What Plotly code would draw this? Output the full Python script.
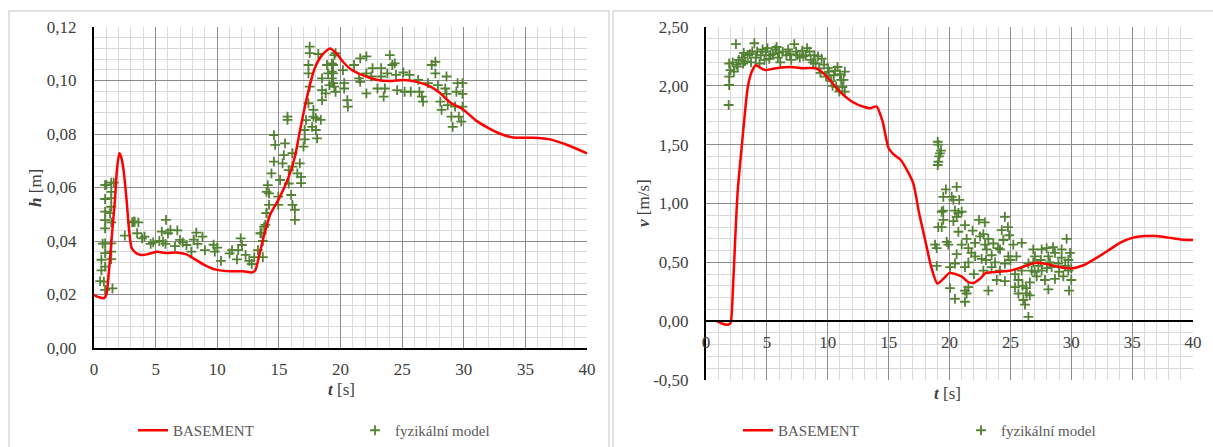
import plotly.graph_objects as go

# ---------------- DATA ----------------
# left chart: water depth h [m] vs time t [s]
h_sim_t = [0, 0.4, 0.8, 1.0, 1.2, 1.45, 1.7, 1.85, 2.05, 2.2, 2.4, 2.65, 2.85, 3.05, 3.4, 3.8, 4.3,
           5.1, 5.9, 6.7, 7.5, 8.0, 8.9, 9.9, 11.0, 12.1, 12.8, 13.1, 13.35, 13.75, 14.3, 14.95, 15.8,
           16.3, 16.7, 17.1, 17.5, 17.9, 18.5, 19.15, 19.7, 20.2, 20.9, 21.8, 22.9, 24.0, 25.1, 26.2,
           27.3, 28.1, 28.9, 30.0, 31.0, 31.9, 32.9, 34.0, 35.6, 37.0, 38.4, 40.0]
h_sim = [0.0198, 0.0190, 0.0186, 0.0200, 0.0280, 0.0420, 0.0555, 0.0660, 0.0728, 0.0715, 0.0665,
         0.0550, 0.0440, 0.0375, 0.0355, 0.0348, 0.0350, 0.0360, 0.0355, 0.0357, 0.0350, 0.0337,
         0.0312, 0.0293, 0.0287, 0.0287, 0.0282, 0.0292, 0.0335, 0.0412, 0.0500, 0.0553, 0.0640,
         0.0715, 0.0810, 0.0900, 0.0980, 0.1045, 0.1095, 0.1120, 0.1100, 0.1070, 0.1040, 0.1020,
         0.1003, 0.0998, 0.1002, 0.0995, 0.0977, 0.0952, 0.0918, 0.0890, 0.0850, 0.0825, 0.0802,
         0.0787, 0.0786, 0.0780, 0.0759, 0.0728]

h_obs_t = [0.9, 0.9, 0.9, 0.9, 0.9, 0.9, 0.9, 0.9, 0.8, 0.9,
           1.4, 1.4, 1.4, 1.4, 1.3, 1.4, 1.4, 1.4, 1.4, 1.5,
           0.6, 0.6, 0.5, 0.7, 1.0, 1.6, 3.2, 3.3,
           2.5, 3.1, 3.6, 3.5, 3.9, 4.1, 4.6, 5.5, 5.84, 6.0, 6.2, 5.6, 5.8, 6.57, 6.76, 6.98, 7.5,
           7.9, 8.3, 8.4, 8.8, 9.0, 9.7, 9.8, 10.3, 11.0, 11.2, 11.6, 11.7, 11.9, 12.0, 12.3, 12.6,
           12.8, 13.0, 13.3, 13.5, 13.7, 13.9, 14.0, 14.0, 13.7, 4.8, 5.3, 7.2, 10.0, 8.1,
           13.6, 13.8, 14.0, 14.2, 14.2, 14.1, 14.4, 14.6, 14.7, 14.6, 14.95, 14.95, 15.1, 15.3,
           15.4, 15.5, 15.7, 15.7, 15.8, 15.8, 16.0, 16.1, 16.3, 16.3, 16.1, 16.1, 16.5, 16.7,
           16.8, 16.8, 17.0, 17.1, 17.1, 17.2, 17.4, 17.5, 17.4, 17.4, 17.5, 17.5, 17.8, 18.0,
           18.0, 18.1, 17.7, 17.8, 18.4, 18.2, 18.5, 18.5, 18.5, 18.8, 18.9, 19.0, 19.1, 19.3,
           19.3, 19.3, 19.5, 19.5,
           19.4, 19.4, 19.4, 19.6, 19.6, 20.2, 20.3, 20.3, 20.55, 20.6, 21.1, 21.5, 21.6, 21.6,
           22.1, 22.1, 22.1, 22.5, 22.6, 23.0, 23.3, 23.3, 23.5, 23.6, 23.8, 24.0, 24.2, 24.4,
           24.5, 24.6, 25.1, 25.2, 25.6, 25.7, 26.3, 26.4, 26.6, 26.7, 27.1, 27.4, 27.7, 27.7,
           27.9, 28.1, 28.2, 28.5, 28.6, 28.6, 28.7, 29.0, 29.1, 29.3, 29.4, 29.5, 29.6, 29.8,
           29.9, 29.9, 29.9]
h_obs = [0.0609, 0.0557, 0.0510, 0.0478, 0.0447, 0.0391, 0.0355, 0.0304, 0.0248, 0.0217,
         0.0618, 0.0584, 0.0560, 0.0528, 0.0504, 0.0470, 0.0391, 0.0360, 0.0332, 0.0223,
         0.0330, 0.0290, 0.0250, 0.0390, 0.0610, 0.0618, 0.0472, 0.0472,
         0.0420, 0.0470, 0.0470, 0.0429, 0.0410, 0.0416, 0.0389, 0.0435, 0.0479, 0.0429, 0.0441,
         0.0398, 0.0389, 0.0381, 0.0440, 0.0404, 0.0385, 0.0360, 0.0431, 0.0389, 0.0416, 0.0366,
         0.0386, 0.0360, 0.0326, 0.0354, 0.0366, 0.0331, 0.0366, 0.0410, 0.0385, 0.0348, 0.0326,
         0.0314, 0.0340, 0.0366, 0.0429, 0.0400, 0.0460, 0.0504, 0.0584, 0.0340, 0.0395, 0.0400,
         0.0395, 0.0375, 0.0405,
         0.0429, 0.0453, 0.0504, 0.0535, 0.0578, 0.0609, 0.0653, 0.0697, 0.0759, 0.0796, 0.0566,
         0.0535, 0.0628, 0.0690, 0.0721, 0.0765, 0.0865, 0.0853, 0.0665, 0.0615, 0.0572, 0.0535,
         0.0516, 0.0479, 0.0728, 0.0678, 0.0653, 0.0690, 0.0640, 0.0616, 0.0753, 0.0815, 0.0780,
         0.0852, 0.0915, 0.0977, 0.1027, 0.1058, 0.1102, 0.1127, 0.0890, 0.0859, 0.0815, 0.0784,
         0.0827, 0.0865, 0.0853, 0.1099, 0.1008, 0.0964, 0.0927, 0.0952, 0.1058, 0.1027, 0.0983,
         0.1008, 0.1033, 0.1064, 0.1095, 0.0977,
         0.1058, 0.1027, 0.0990, 0.0958, 0.1102, 0.1039, 0.0990, 0.0970, 0.0927, 0.0902, 0.1058,
         0.1008, 0.1083, 0.0995, 0.1090, 0.0952, 0.1027, 0.1015, 0.1046, 0.0970, 0.1046, 0.1015,
         0.0940, 0.0970, 0.1027, 0.1095, 0.1058, 0.1064, 0.1021, 0.0964, 0.1030, 0.0958, 0.1021,
         0.0958, 0.1002, 0.0958, 0.0940, 0.0921, 0.0990, 0.1058, 0.1070, 0.1027, 0.0983, 0.0921,
         0.0890, 0.0970, 0.1015, 0.0950, 0.0908, 0.0865, 0.0827, 0.0902, 0.0958, 0.0990, 0.0865,
         0.0846, 0.0950, 0.0990, 0.0902]

# right chart: velocity v [m/s] vs time t [s]
v_sim_t = [0.9, 1.3, 1.7, 2.0, 2.2, 2.4, 2.6, 2.95, 3.45, 3.8, 4.1, 4.5, 4.9, 5.5, 6.0, 7.0, 8.0,
           9.0, 9.5, 10.0, 11.0, 12.0, 13.0, 13.5, 14.0, 14.5, 15.0, 15.5, 16.0, 17.0, 17.5, 18.0,
           18.5, 19.0, 19.5, 20.0, 20.5, 21.0, 21.5, 22.0, 22.5, 23.0, 24.0, 25.0, 26.0, 27.0,
           28.0, 29.0, 30.0, 31.0, 32.0, 33.0, 34.0, 35.0, 36.0, 37.0, 38.0, 39.0, 40.0]
v_sim = [0.0, -0.02, -0.03, -0.02, 0.25, 0.7, 1.1, 1.5, 2.0, 2.13, 2.175, 2.15, 2.134, 2.145,
         2.154, 2.16, 2.15, 2.15, 2.12, 2.07, 1.95, 1.865, 1.82, 1.81, 1.825, 1.7, 1.47, 1.41,
         1.37, 1.18, 0.92, 0.69, 0.46, 0.32, 0.36, 0.41, 0.40, 0.38, 0.335, 0.325, 0.36, 0.41,
         0.42, 0.43, 0.46, 0.495, 0.485, 0.46, 0.448, 0.475, 0.533, 0.598, 0.666, 0.708, 0.723,
         0.723, 0.71, 0.695, 0.689]

v_obs_t = [1.86, 1.9, 1.9, 1.9, 2.0, 2.46, 2.2, 2.6, 2.7, 2.95, 3.05, 3.42, 3.6, 3.8, 3.97, 4.1,
           4.2, 4.5, 4.65, 4.8, 4.9, 5.05, 5.2, 5.5, 5.7, 5.9, 6.1, 6.3, 6.6, 6.75, 7.0, 7.25, 7.4,
           7.7, 7.9, 8.2, 8.5, 8.6, 8.9, 9.0, 9.3, 9.4, 9.7, 9.86, 10.1, 10.3, 10.5, 10.7, 10.8,
           11.1, 11.2, 11.4, 11.4, 10.95, 10.4,
           3.2, 3.7, 4.4, 5.3, 6.0, 6.9, 7.5, 8.0, 8.8, 9.5, 10.0, 3.1, 5.8, 8.3, 9.2, 2.3, 2.5,
           10.6, 11.0, 11.3,
           19.03, 19.08, 19.22, 19.14, 19.08, 19.03, 19.30, 20.59, 20.18, 20.32, 19.49, 19.36,
           19.49, 20.45, 20.73, 20.59, 19.08, 19.36, 19.49, 20.32, 21.27, 22.42, 24.55, 20.73,
           21.41, 19.77, 19.9, 18.81, 18.95, 21.0, 21.55, 22.1, 22.51, 22.78, 22.92, 23.19, 23.05,
           23.46, 24.29, 24.42, 24.15, 24.9, 25.24, 25.93, 24.83, 24.55, 23.74, 22.64, 22.1, 21.55,
           20.59, 20.04, 18.95, 20.45, 21.27, 22.78, 23.46, 24.15, 25.38, 25.93, 25.66, 25.38,
           25.66, 26.07, 26.2, 26.48, 26.34, 20.04, 20.45, 21.27, 21.41, 21.55, 21.27, 23.19,
           24.55, 23.88, 26.88, 27.02, 27.57, 27.98, 28.12, 28.66, 29.21, 29.62, 29.76, 29.76,
           29.82, 29.35, 28.66, 28.12, 27.84, 27.16, 26.75, 27.57, 28.39, 28.94, 26.48, 26.88,
           29.21, 28.25,
           26.0, 26.3, 26.6, 27.3, 28.0, 29.0, 29.5, 30.0, 30.0, 29.9, 25.0, 24.0, 23.0, 22.0,
           21.8, 25.5, 27.5, 28.5, 26.6, 27.0, 23.6, 24.8, 21.0, 20.8, 19.7, 22.9, 21.9]
v_obs = [1.837, 2.007, 2.078, 2.19, 2.134, 2.355, 2.2, 2.163, 2.22, 2.24, 2.19, 2.262, 2.27, 2.29,
         2.362, 2.24, 2.29, 2.26, 2.31, 2.22, 2.29, 2.32, 2.23, 2.27, 2.31, 2.24, 2.2, 2.29, 2.26,
         2.31, 2.22, 2.355, 2.29, 2.24, 2.3, 2.26, 2.29, 2.22, 2.26, 2.19, 2.149, 2.11, 2.18,
         2.078, 2.12, 2.04, 2.09, 1.99, 2.16, 2.05, 1.99, 2.12, 1.95, 1.95, 2.0,
         2.21, 2.2, 2.19, 2.26, 2.28, 2.27, 2.26, 2.25, 2.2, 2.23, 2.15, 2.28, 2.33, 2.32, 2.25,
         2.12, 2.18, 2.13, 2.1, 2.05,
         1.525, 1.50, 1.426, 1.40, 1.355, 1.327, 1.45, 1.142, 1.057, 1.03, 1.057, 0.93, 0.94,
         0.94, 0.92, 0.887, 0.80, 0.80, 0.86, 0.85, 0.816, 0.86, 0.887, 0.76, 0.70, 0.674, 0.65,
         0.65, 0.62, 0.65, 0.62, 0.665, 0.72, 0.74, 0.65, 0.70, 0.61, 0.56, 0.774, 0.69, 0.61,
         0.73, 0.65, 0.665, 0.55, 0.49, 0.50, 0.53, 0.55, 0.50, 0.57, 0.46, 0.47, 0.49, 0.46,
         0.43, 0.46, 0.43, 0.40, 0.43, 0.35, 0.29, 0.235, 0.18, 0.14, 0.037, 0.235, 0.28, 0.19,
         0.165, 0.235, 0.29, 0.26, 0.26, 0.34, 0.35, 0.61, 0.55, 0.61, 0.62, 0.55, 0.58, 0.54,
         0.70, 0.52, 0.43, 0.26, 0.38, 0.36, 0.27, 0.35, 0.38, 0.43, 0.43, 0.46, 0.49, 0.49,
         0.50, 0.61, 0.50,
         0.30, 0.28, 0.22, 0.47, 0.45, 0.42, 0.47, 0.45, 0.35, 0.58, 0.52, 0.62, 0.52, 0.40,
         0.58, 0.55, 0.52, 0.63, 0.33, 0.42, 0.66, 0.80, 0.93, 1.03, 1.12, 0.84, 0.77]

t_ticks = [0, 5, 10, 15, 20, 25, 30, 35, 40]
t_tick_labels = ["0", "5", "10", "15", "20", "25", "30", "35", "40"]
h_ticks = [0.0, 0.02, 0.04, 0.06, 0.08, 0.10, 0.12]
h_tick_labels = ["0,00", "0,02", "0,04", "0,06", "0,08", "0,10", "0,12"]
v_ticks = [-0.5, 0.0, 0.5, 1.0, 1.5, 2.0, 2.5]
v_tick_labels = ["-0,50", "0,00", "0,50", "1,00", "1,50", "2,00", "2,50"]

name_sim = "BASEMENT"
name_obs = "fyzikální model"

# ---------------- STYLE / LAYOUT ----------------
W, H = 1213, 447
FONT = '"Liberation Serif", "Times New Roman", Times, serif'
RED = "#ff0000"
GREEN = "#548235"
MAJ = "#8c8c8c"
MIN = "#d9d9d9"
TXT = "#404040"
LEG = "#595959"


def fx(p):
    return p / W


def fy(p):
    return 1 - p / H


xd1 = [fx(94), fx(587)]
yd1 = [fy(348), fy(27)]
xd2 = [fx(706), fx(1193)]
yd2 = [fy(380), fy(27)]
zero_pos = yd2[0] + (0 - (-0.5)) / 3.0 * (yd2[1] - yd2[0])

fig = go.Figure()

marker = dict(symbol="cross-thin", size=7, color=GREEN, line=dict(width=1.8, color=GREEN))
line = dict(color=RED, width=2.5, shape="spline", smoothing=0.6)

fig.add_trace(go.Scatter(x=h_obs_t, y=h_obs, mode="markers", marker=marker, name=name_obs,
                         legend="legend2", xaxis="x", yaxis="y", showlegend=True))
fig.add_trace(go.Scatter(x=h_sim_t, y=h_sim, mode="lines", line=line, name=name_sim,
                         legend="legend", xaxis="x", yaxis="y", showlegend=True))
fig.add_trace(go.Scatter(x=v_obs_t, y=v_obs, mode="markers", marker=marker, name=name_obs,
                         legend="legend4", xaxis="x2", yaxis="y2", showlegend=True))
fig.add_trace(go.Scatter(x=v_sim_t, y=v_sim, mode="lines", line=line, name=name_sim,
                         legend="legend3", xaxis="x2", yaxis="y2", showlegend=True))

tickfont = dict(family=FONT, size=17, color=TXT)


def xaxis(domain, **kw):
    d = dict(domain=domain, range=[0, 40], tickvals=t_ticks, ticktext=t_tick_labels,
             showgrid=True, gridcolor=MAJ, gridwidth=1.3,
             minor=dict(dtick=1, tick0=0, showgrid=True, gridcolor=MIN, gridwidth=1.3),
             showline=True, linecolor="#000000", linewidth=2, ticks="", zeroline=False,
             tickfont=tickfont, ticklabelstandoff=5, fixedrange=True, automargin=False)
    d.update(kw)
    return d


def yaxis(domain, rng, vals, texts, mdt, **kw):
    d = dict(domain=domain, range=rng, tickvals=vals, ticktext=texts,
             showgrid=True, gridcolor=MAJ, gridwidth=1.3,
             minor=dict(dtick=mdt, tick0=0, showgrid=True, gridcolor=MIN, gridwidth=1.3),
             showline=True, linecolor="#000000", linewidth=2, ticks="", zeroline=False,
             tickfont=tickfont, ticklabelstandoff=12, fixedrange=True, automargin=False)
    d.update(kw)
    return d


legfont = dict(family=FONT, size=15, color=LEG)


def leg(xp):
    return dict(x=fx(xp), y=0, xref="paper", yref="paper",
                xanchor="left", yanchor="bottom", orientation="h",
                font=legfont, bgcolor="rgba(0,0,0,0)", borderwidth=0, itemwidth=30)


title_font = dict(family=FONT, size=17, color=TXT)

fig.update_layout(
    width=W, height=H, autosize=False,
    margin=dict(l=0, r=0, t=0, b=0, pad=0),
    showlegend=True,
    paper_bgcolor="white", plot_bgcolor="white",
    font=dict(family=FONT, color=TXT),
    xaxis=xaxis(xd1, anchor="y"),
    yaxis=yaxis(yd1, [0, 0.12], h_ticks, h_tick_labels, 0.004, anchor="x"),
    xaxis2=xaxis(xd2, anchor="free", position=zero_pos),
    yaxis2=yaxis(yd2, [-0.5, 2.5], v_ticks, v_tick_labels, 0.1, anchor="x2"),
    legend=leg(133),
    legend2=leg(355),
    legend3=leg(738),
    legend4=leg(961),
    shapes=[
        dict(type="rect", xref="paper", yref="paper", x0=fx(9), x1=fx(609), y0=-0.05, y1=fy(11),
             line=dict(color="#d9d9d9", width=1.5), layer="below"),
        dict(type="rect", xref="paper", yref="paper", x0=fx(613), x1=1.05, y0=-0.05, y1=fy(11),
             line=dict(color="#d9d9d9", width=1.5), layer="below"),
    ],
    annotations=[
        dict(text="<b><i>h</i></b> [m]", x=fx(35), y=fy(188), xref="paper", yref="paper",
             textangle=-90, showarrow=False, font=title_font, xanchor="center", yanchor="middle"),
        dict(text="<b><i>t</i></b> [s]", x=fx(341), y=fy(389), xref="paper", yref="paper",
             showarrow=False, font=title_font, xanchor="center", yanchor="middle"),
        dict(text="<b><i>v</i></b> [m/s]", x=fx(643), y=fy(203), xref="paper", yref="paper",
             textangle=-90, showarrow=False, font=title_font, xanchor="center", yanchor="middle"),
        dict(text="<b><i>t</i></b> [s]", x=fx(948), y=fy(393), xref="paper", yref="paper",
             showarrow=False, font=title_font, xanchor="center", yanchor="middle"),
    ],
)

fig.write_html("out.html")
